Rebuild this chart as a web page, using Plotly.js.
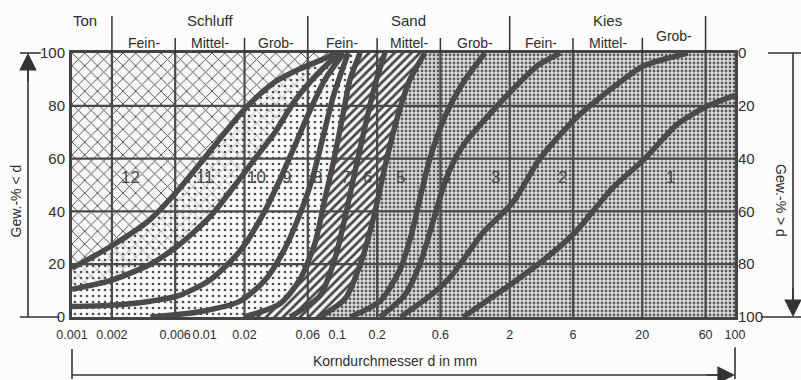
<!DOCTYPE html>
<html><head><meta charset="utf-8">
<script src="https://cdn.plot.ly/plotly-3.0.1.min.js"></script>
<style>html,body{margin:0;padding:0;background:#fcfcfc;} #chart{width:801px;height:380px;}</style>
</head><body><div id="chart"></div>
<script>
// ---- axis data ----
const xRange = [0.001, 100];
const yRange = [0, 100];
const xTickVals = [0.001, 0.002, 0.006, 0.01, 0.02, 0.06, 0.1, 0.2, 0.6, 2, 6, 20, 60, 100];
const xTickText = ['0.001', '0.002', '0.006', '0.01', '0.02', '0.06', '0.1', '0.2', '0.6', '2', '6', '20', '60', '100'];
const yTickVals = [0, 20, 40, 60, 80, 100];
const gridD = [0.002, 0.006, 0.02, 0.06, 0.2, 0.6, 2, 6, 20, 60];
const gridP = [20, 40, 60, 80];

// ---- soil classes (header) ----
const mainNames = ['Ton', 'Schluff', 'Sand', 'Kies'];
const mainBounds = [0.001, 0.002, 0.06, 2, 60];
const subNames = ['Fein-', 'Mittel-', 'Grob-', 'Fein-', 'Mittel-', 'Grob-', 'Fein-', 'Mittel-', 'Grob-'];
const subBounds = [0.002, 0.006, 0.02, 0.06, 0.2, 0.6, 2, 6, 20, 60];
const tallSeps = [0.002, 0.06, 2, 60];
const shortSeps = [0.006, 0.02, 0.2, 0.6, 6, 20];

// ---- grading curves: grain size d (mm) and weight-% passing ----
const curveA_d = [0.001, 0.002, 0.0039, 0.0063, 0.0092, 0.0143, 0.0212, 0.0339, 0.0524, 0.081, 0.098];
const curveA_p = [18.5, 27, 37, 48, 58, 70, 80, 89, 94, 98, 100];
const curveB_d = [0.001, 0.002, 0.0039, 0.0063, 0.011, 0.017, 0.024, 0.034, 0.048, 0.074, 0.105];
const curveB_p = [10.5, 14, 20, 27, 38, 50, 60, 70, 82, 93, 100];
const curveC_d = [0.001, 0.002, 0.0039, 0.0063, 0.011, 0.0185, 0.027, 0.037, 0.048, 0.062, 0.081, 0.112];
const curveC_p = [4, 4.5, 6, 8, 14, 25, 38, 52, 65, 78, 90, 100];
const curveD_d = [0.0039, 0.0092, 0.0185, 0.0286, 0.0404, 0.0524, 0.0646, 0.078, 0.094, 0.121];
const curveD_p = [0, 2, 6, 14, 26, 39, 52, 68, 84, 100];
const curveE_d = [0.02, 0.037, 0.052, 0.068, 0.081, 0.093, 0.109, 0.125, 0.149];
const curveE_p = [0, 5, 14, 28, 45, 58, 75, 90, 100];
const curveF_d = [0.044, 0.074, 0.096, 0.115, 0.136, 0.162, 0.193, 0.229];
const curveF_p = [0, 8, 22, 38, 55, 72, 88, 100];
const curveG_d = [0.074, 0.115, 0.154, 0.193, 0.229, 0.282, 0.354, 0.459];
const curveG_p = [0, 7, 22, 40, 57, 75, 90, 100];
const curveH_d = [0.125, 0.21, 0.298, 0.366, 0.421, 0.5, 0.65, 0.87, 1.3];
const curveH_p = [0, 6, 18, 32, 45, 60, 76, 88, 100];
const curveI_d = [0.21, 0.32, 0.42, 0.52, 0.62, 0.71, 0.92, 1.26, 1.91, 3.2, 4.8];
const curveI_p = [0, 8, 20, 35, 48, 56, 66, 74, 84, 95, 100];
const curveJ_d = [0.3, 0.5, 0.71, 1.26, 2.12, 3.38, 6.2, 8.05, 13.6, 20.2, 44];
const curveJ_p = [0, 8, 15, 32, 43.5, 60, 75, 80, 89, 95, 100];
const curveK_d = [0.89, 2.12, 3.69, 6.21, 12.0, 20.9, 36.6, 62.5, 100];
const curveK_p = [0, 13, 22, 32, 49, 60, 73, 80, 84];

// ---- zone labels ----
const zoneLabels = ['12', '11', '10', '9', '8', '7', '6', '5', '4', '3', '2', '1'];
const zoneLabelD = [0.00274, 0.0101, 0.0248, 0.0418, 0.0716, 0.1146, 0.168, 0.298, 0.673, 1.55, 4.96, 32.4];
const zoneLabelP = [53, 53, 53, 53, 53, 53, 53, 53, 53, 53, 53, 53];

// ---------------------------------------------------------------
const narrow = '"Liberation Sans Narrow", "Liberation Sans", Arial, sans-serif';
const reg = '"Liberation Sans", Arial, sans-serif';
const ink = '#2e2e2e';
const lineCol = '#4a4a4a';

const A = {d: curveA_d, p: curveA_p}, B = {d: curveB_d, p: curveB_p}, C = {d: curveC_d, p: curveC_p},
      D = {d: curveD_d, p: curveD_p}, E = {d: curveE_d, p: curveE_p}, F = {d: curveF_d, p: curveF_p},
      G = {d: curveG_d, p: curveG_p}, H = {d: curveH_d, p: curveH_p}, I = {d: curveI_d, p: curveI_p},
      J = {d: curveJ_d, p: curveJ_p}, K = {d: curveK_d, p: curveK_p};
const curves = [A, B, C, D, E, F, G, H, I, J, K];

function zone(up, lo) {
  const x = up.d.slice(), y = up.p.slice();
  for (let i = lo.d.length - 1; i >= 0; i--) { x.push(lo.d[i]); y.push(lo.p[i]); }
  if (up.d[0] === xRange[0] && lo.d[0] > xRange[0]) { x.push(xRange[0]); y.push(yRange[0]); }
  return {x, y};
}
function poly(z, pat) {
  return {x: z.x, y: z.y, mode: 'lines', fill: 'toself', line: {width: 0, color: 'rgba(0,0,0,0)'},
          fillcolor: 'rgba(0,0,0,0)', fillpattern: pat, hoverinfo: 'skip', showlegend: false};
}

const stipPat = {shape: '.', bgcolor: '#dedede', fgcolor: '#5c5c5c', size: 4, solidity: 0.4};
const crossPat = {shape: 'x', bgcolor: '#f7f7f7', fgcolor: '#4e4e4e', size: 9, solidity: 0.2};
const dotPat = {shape: '.', bgcolor: '#fafafa', fgcolor: '#4e4e4e', size: 6, solidity: 0.16};
const crossLight = {shape: 'x', fgcolor: '#6a6a6a', size: 9, solidity: 0.1};
const hatchPat = {shape: '/', bgcolor: '#f7f7f7', fgcolor: '#454545', size: 6, solidity: 0.45};

const traces = [];
traces.push(poly({x: [xRange[0], xRange[1], xRange[1], xRange[0]], y: [yRange[0], yRange[0], yRange[1], yRange[1]]}, stipPat));
traces.push(poly({x: [xRange[0]].concat(A.d), y: [yRange[1]].concat(A.p)}, crossPat));
traces.push(poly(zone(A, B), dotPat));
traces.push(poly(zone(A, B), crossLight));
traces.push(poly(zone(B, C), dotPat));
traces.push(poly(zone(C, D), dotPat));
traces.push(poly(zone(D, E), dotPat));
traces.push(poly(zone(E, F), hatchPat));
traces.push(poly(zone(F, G), hatchPat));

const gvx = [], gvy = [];
gridD.forEach(v => { gvx.push(v, v, null); gvy.push(yRange[0], yRange[1], null); });
traces.push({x: gvx, y: gvy, mode: 'lines', line: {color: lineCol, width: 2.2}, hoverinfo: 'skip', showlegend: false});
const ghx = [], ghy = [];
gridP.forEach(v => { ghx.push(xRange[0], xRange[1], null); ghy.push(v, v, null); });
traces.push({x: ghx, y: ghy, mode: 'lines', line: {color: lineCol, width: 2.2}, hoverinfo: 'skip', showlegend: false});

curves.forEach(c => traces.push({x: c.d, y: c.p, mode: 'lines', line: {color: lineCol, width: 5.5, shape: 'spline', smoothing: 0.7},
  hoverinfo: 'skip', showlegend: false}));

traces.push({x: [-3], y: [0], xaxis: 'x2', yaxis: 'y2', mode: 'markers', marker: {opacity: 0, size: 1}, hoverinfo: 'skip', showlegend: false});

// ---- annotations ----
const L = Math.log10;
const ann = [];
const gm = (a, b) => (L(a) + L(b)) / 2;
const txt = (o) => Object.assign({showarrow: false, xanchor: 'center', yanchor: 'middle'}, o);
mainNames.forEach((n, i) => ann.push(txt({text: n, xref: 'x', yref: 'paper', x: gm(mainBounds[i], mainBounds[i + 1]) - (i === 0 ? 0.05 : 0), y: 1.125,
  font: {family: reg, size: 15, color: ink}})));
ann.push(txt({text: 'Steine', xref: 'x', yref: 'paper', x: 2.015, y: 1.135, font: {family: reg, size: 15, color: ink}}));
subNames.forEach((n, i) => ann.push(txt({text: n, xref: 'x', yref: 'paper', x: gm(subBounds[i], subBounds[i + 1]), y: (i === 8 ? 1.064 : 1.037),
  font: {family: reg, size: 14, color: ink}})));
zoneLabels.forEach((t, i) => ann.push(txt({text: t, xref: 'x', yref: 'y', x: L(zoneLabelD[i]), y: zoneLabelP[i],
  font: {family: reg, size: 17, color: '#474747'}})));
ann.push(txt({text: 'Gew.-% < d', xref: 'paper', yref: 'paper', x: -0.085, y: 0.44, textangle: -90, font: {family: reg, size: 14, color: ink}}));
ann.push(txt({text: 'Gew.-% > d', xref: 'paper', yref: 'paper', x: 1.069, y: 0.44, textangle: 90, font: {family: reg, size: 14, color: ink}}));
ann.push(txt({text: 'Korndurchmesser d in mm', xref: 'paper', yref: 'paper', x: 0.487, y: -0.167, font: {family: reg, size: 14, color: ink}}));
const arrowCommon = {xref: 'paper', yref: 'paper', text: '', showarrow: true, arrowhead: 2, arrowsize: 2.2, arrowwidth: 1.6, arrowcolor: '#333'};
ann.push(Object.assign({x: -0.0664, y: 1.0, ax: 0, ay: 30}, arrowCommon));
ann.push(Object.assign({x: 1.0875, y: 0.0, ax: 0, ay: -30}, arrowCommon));
ann.push(Object.assign({x: 1.0, y: -0.2197, ax: -30, ay: 0}, arrowCommon));

// ---- shapes ----
const shp = [];
const sepLine = {color: '#333', width: 1.5};
tallSeps.forEach(v => shp.push({type: 'line', xref: 'x2', yref: 'paper', x0: L(v), x1: L(v), y0: 1.0, y1: 1.14, line: sepLine}));
shortSeps.forEach(v => shp.push({type: 'line', xref: 'x2', yref: 'paper', x0: L(v), x1: L(v), y0: 1.0, y1: 1.057, line: sepLine}));
const ar = {color: '#333', width: 1.6};
shp.push({type: 'line', xref: 'paper', yref: 'paper', x0: -0.0664, x1: -0.0664, y0: 0, y1: 0.98, line: ar});
shp.push({type: 'line', xref: 'paper', yref: 'paper', x0: -0.0784, x1: -0.047, y0: 1, y1: 1, line: ar});
shp.push({type: 'line', xref: 'paper', yref: 'paper', x0: -0.0784, x1: -0.019, y0: 0, y1: 0, line: ar});
shp.push({type: 'line', xref: 'paper', yref: 'paper', x0: 1.0875, x1: 1.0875, y0: 1, y1: 0.02, line: ar});
shp.push({type: 'line', xref: 'paper', yref: 'paper', x0: 1.0498, x1: 1.1, y0: 1, y1: 1, line: ar});
shp.push({type: 'line', xref: 'paper', yref: 'paper', x0: 1.039, x1: 1.1, y0: 0, y1: 0, line: ar});
shp.push({type: 'line', xref: 'paper', yref: 'paper', x0: 0, x1: 0.985, y0: -0.2197, y1: -0.2197, line: ar});
shp.push({type: 'line', xref: 'paper', yref: 'paper', x0: 0, x1: 0, y0: -0.121, y1: -0.235, line: ar});
shp.push({type: 'line', xref: 'paper', yref: 'paper', x0: 1, x1: 1, y0: -0.115, y1: -0.235, line: ar});

const layout = {
  width: 801, height: 380,
  margin: {l: 72, r: 66, t: 53, b: 63},
  paper_bgcolor: '#fcfcfc', plot_bgcolor: '#fcfcfc',
  showlegend: false,
  xaxis: {type: 'log', range: [L(xRange[0]), L(xRange[1])], tickvals: xTickVals, ticktext: xTickText, tickangle: 0,
    ticks: '', showgrid: false, zeroline: false, showline: true, mirror: true, linecolor: '#444', linewidth: 3,
    tickfont: {family: narrow, size: 12.5, color: ink}, ticklabelstandoff: 4, fixedrange: true},
  xaxis2: {overlaying: 'x', range: [L(xRange[0]), L(xRange[1])], visible: false, fixedrange: true},
  yaxis: {range: yRange, tickvals: yTickVals, ticks: '', showgrid: false, zeroline: false, showline: true, mirror: true,
    linecolor: '#444', linewidth: 3, tickfont: {family: narrow, size: 15, color: ink}, ticklabelstandoff: 1, fixedrange: true},
  yaxis2: {overlaying: 'y', side: 'right', range: [yRange[1], yRange[0]], tickvals: yTickVals, ticks: '', showgrid: false,
    zeroline: false, showline: false, tickfont: {family: narrow, size: 15, color: ink}, ticklabelstandoff: 2, fixedrange: true},
  annotations: ann,
  shapes: shp
};
Plotly.newPlot('chart', traces, layout, {displayModeBar: false, staticPlot: true});
</script>
</body></html>
